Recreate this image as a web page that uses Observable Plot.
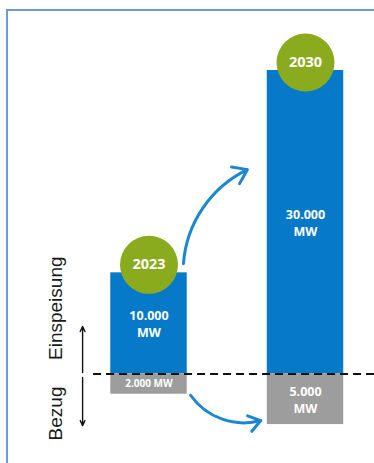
<!DOCTYPE html>
<html><head><meta charset="utf-8">
<script src="https://cdn.jsdelivr.net/npm/d3@7"></script>
<script src="https://cdn.jsdelivr.net/npm/@observablehq/plot@0.6"></script>
<style>
html,body{margin:0;padding:0;background:#fff;}
#wrap{position:relative;width:374px;height:463px;overflow:hidden;}
#frame{position:absolute;left:6px;top:9px;width:420px;height:520px;border-left:2px solid #6d9bd6;border-top:2px solid #6d9bd6;}
#chart{position:absolute;left:0;top:0;}
</style></head><body>
<div id="wrap"><div id="frame"></div><div id="chart"></div></div>
<script>
// ---- data ----
const years = [2023, 2030];
const yearLabels = ["2023", "2030"];
const feedIn = [10000, 30000];          // Einspeisung, MW
const drawn = [2000, 5000];             // Bezug, MW
const feedInLabels = ["10.000\nMW", "30.000\nMW"];
const drawnLabels = ["2.000 MW", "5.000\nMW"];
const sideLabels = ["Einspeisung", "Bezug"];

const data = years.map((year, i) => ({
  year, yearLabel: yearLabels[i], feedIn: feedIn[i], drawn: drawn[i],
  feedInLabel: feedInLabels[i], drawnLabel: drawnLabels[i]
}));

// ---- styling / annotation geometry (data units) ----
const BLUE = "#0679c8", GREEN = "#8bab1e", GRAY = "#9d9d9d", ARROW = "#1b87d0";
const HALF = 1.71;      // half bar width in years
const FONT = "'Open Sans', sans-serif";
const side = [
  {label: sideLabels[0], x: 2018.82, y: 6500},
  {label: sideLabels[1], x: 2018.82, y: -3900}
];
const axisArrows = [
  {x: 2020.03, y1: 150, y2: 4700},
  {x: 2020.03, y1: -350, y2: -5100}
];
const growthArrow = [{x1: 2024.54, y1: 10900, x2: 2027.4, y2: 20200}];
const drawArrow = [{x1: 2024.86, y1: -2100, x2: 2028.0, y2: -4600}];

const chart = Plot.plot({
  width: 374, height: 463, margin: 0,
  style: {background: "transparent", overflow: "visible"},
  x: {domain: [2023, 2030], range: [148.5, 305], axis: null},
  y: {domain: [0, 30000], range: [373.5, 70], axis: null},
  marks: [
    Plot.rect(data, {x1: d => d.year - HALF, x2: d => d.year + HALF, y1: 0, y2: "feedIn", fill: BLUE}),
    Plot.rect(data, {x1: d => d.year - HALF, x2: d => d.year + HALF, y1: 0, y2: d => -d.drawn, fill: GRAY}),
    Plot.ruleY([0], {x1: 2020.52, x2: 2034, stroke: "#111", strokeWidth: 2.2, strokeDasharray: "8,5"}),
    Plot.text(data, {x: "year", y: d => d.feedIn / 2, text: "feedInLabel", fill: "white", fontWeight: 700, fontSize: 12.5, lineHeight: 1.35, fontFamily: FONT}),
    Plot.text(data.filter(d => !d.drawnLabel.includes("\n")), {x: "year", y: d => -d.drawn / 2, text: "drawnLabel", fill: "white", fontWeight: 700, fontSize: 10, fontFamily: FONT}),
    Plot.text(data.filter(d => d.drawnLabel.includes("\n")), {x: "year", y: d => -d.drawn / 2, text: "drawnLabel", fill: "white", fontWeight: 700, fontSize: 12.5, lineHeight: 1.35, fontFamily: FONT}),
    Plot.dot(data, {x: "year", y: "feedIn", r: 29, fill: GREEN, dy: -8}),
    Plot.text(data, {x: "year", y: "feedIn", text: "yearLabel", dy: -8, fill: "white", fontWeight: 700, fontSize: 14.5, fontFamily: FONT}),
    Plot.arrow(growthArrow, {x1: "x1", y1: "y1", x2: "x2", y2: "y2", bend: 30, stroke: ARROW, strokeWidth: 3, headLength: 8, headAngle: 70}),
    Plot.arrow(drawArrow, {x1: "x1", y1: "y1", x2: "x2", y2: "y2", bend: -35, stroke: ARROW, strokeWidth: 3, headLength: 7, headAngle: 70}),
    Plot.arrow(axisArrows, {x: "x", y1: "y1", y2: "y2", stroke: "#111", strokeWidth: 1.4, headLength: 6, headAngle: 50}),
    Plot.text(side, {x: "x", y: "y", text: "label", rotate: -90, fontSize: 19, fill: "#1a1a1a", fontFamily: "'Liberation Sans', Arial, sans-serif"})
  ]
});
document.getElementById("chart").appendChild(chart);
</script>
</body></html>
